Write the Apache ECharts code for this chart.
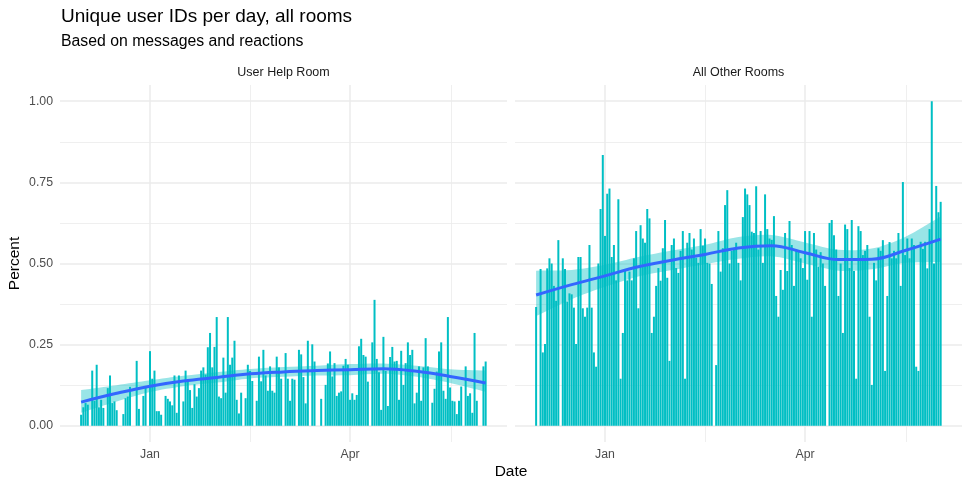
<!DOCTYPE html>
<html>
<head>
<meta charset="utf-8">
<script src="https://cdn.jsdelivr.net/npm/echarts@6/dist/echarts.min.js"></script>
<style>
  html, body { margin: 0; padding: 0; background: #fff; }
  #chart { width: 969px; height: 490px; }
</style>
</head>
<body>
<div id="chart"></div>
<script>
// days are counted from 1 Jan; first bar is 1 Dec
var firstDay = -31

// share of unique user IDs per day, User Help Room
var helpRoom = [
  0.034, 0.057, 0.07, 0.065, 0, 0.17, 0.077, 0.188, 0.057, 0.08,
  0.055, 0, 0.116, 0.155, 0.07, 0.075, 0.048, 0, 0, 0.036,
  0.085, 0.09, 0.12, 0, 0, 0.2, 0.052, 0, 0.092, 0.12, 0,
  0.23, 0.145, 0.17, 0.045, 0.045, 0.034, 0, 0.092, 0.083, 0.075,
  0.063, 0.155, 0.04, 0.155, 0, 0.075, 0.17, 0.138, 0.11, 0.055,
  0.128, 0.09, 0.116, 0.17, 0.18, 0.158, 0.242, 0.286, 0.18, 0.243, 0.335,
  0.09, 0.085, 0.21, 0.102, 0.335, 0.188, 0.21, 0.262, 0.08, 0.038,
  0.102, 0, 0.085, 0.188, 0.169, 0.138, 0, 0.077, 0.213, 0.137,
  0.234, 0.155, 0.108, 0.183, 0.108, 0.102, 0.213, 0.18,
  0.145, 0, 0.224, 0.145, 0.077, 0.145, 0.142, 0, 0.234, 0.22,
  0.15, 0.069, 0.262, 0, 0.251, 0.198, 0, 0, 0.083, 0,
  0.126, 0.192, 0.229, 0.152, 0.193, 0.092, 0.102, 0.106, 0.185, 0.206, 0.188,
  0.08, 0.1, 0.08, 0.095, 0.245, 0.268, 0.218, 0.213, 0.136, 0,
  0.257, 0.388, 0.206, 0.165, 0.049, 0.274, 0.169, 0.061, 0.212, 0.243,
  0.198, 0.2, 0.08, 0.231, 0.126, 0.193, 0.257, 0.218, 0.234, 0.069,
  0.102, 0.183, 0.077, 0.18, 0.27, 0.183, 0, 0.071, 0.114, 0.167,
  0.229, 0.257, 0.108, 0.083, 0.335, 0.118, 0.077, 0.075, 0.036, 0.077,
  0.121, 0, 0.183, 0.092, 0.1, 0.04, 0.286, 0.077, 0, 0, 0.183, 0.198
]

// share of unique user IDs per day, all other rooms
var otherRooms = [
  0.366, 0, 0.483, 0.226, 0.252, 0.485, 0.516, 0.5, 0.431, 0.385,
  0.572, 0, 0.516, 0.483, 0.383, 0.408, 0.405, 0.364, 0.252, 0.52,
  0.52, 0.362, 0.336, 0.364, 0.557, 0.364, 0.226, 0.182, 0.5, 0.668, 0.834,
  0.585, 0.715, 0.731, 0.52, 0.557, 0.448, 0.698, 0.145, 0.286, 0.483,
  0.448, 0.475, 0.448, 0.516, 0.6, 0.362, 0.618, 0.577, 0.564, 0.668,
  0.639, 0.286, 0.336, 0.431, 0.486, 0.447, 0.547, 0.634, 0.456, 0.2, 0.557,
  0.577, 0.486, 0.471, 0.539, 0.6, 0.145, 0.564, 0.594, 0.543, 0.577,
  0.518, 0.502, 0.606, 0.555, 0.577, 0.502, 0.5, 0.437, 0, 0.187,
  0.6, 0.475, 0.547, 0.68, 0.726, 0.5, 0.539, 0.543,
  0.564, 0.502, 0.448, 0.643, 0.731, 0.713, 0.68, 0.598, 0.594, 0.738,
  0.543, 0.6, 0.502, 0.713, 0.606, 0.577, 0.573, 0.646, 0.4, 0.336,
  0.48, 0.419, 0.594, 0.477, 0.631, 0.557, 0.431, 0.543, 0.539, 0.516, 0.486,
  0.6, 0.45, 0.6, 0.336, 0.594, 0.543, 0.49, 0.535, 0.5, 0.431,
  0, 0.625, 0.634, 0.587, 0.543, 0.4, 0.5, 0.286, 0.62, 0.606,
  0.486, 0.634, 0.477, 0.145, 0.615, 0.6, 0.526, 0.539, 0.557, 0.336,
  0.126, 0.502, 0.448, 0.547, 0.539, 0.572, 0.169, 0.4, 0.566, 0.516,
  0.539, 0.516, 0.594, 0.431, 0.751, 0.526, 0.577, 0.516, 0.577, 0.557,
  0.182, 0.169, 0.567, 0.545, 0.567, 0.485, 0.606, 1.0, 0.5, 0.739, 0.658, 0.69
]

// loess fit and its band
var fitDays = [-31, -15, 0, 15, 30, 45, 60, 75, 90, 105, 120, 135, 151]
var helpFit = [0.073, 0.1, 0.122, 0.138, 0.149, 0.16, 0.166, 0.17, 0.173, 0.176, 0.168, 0.152, 0.132]
var helpLow = [0.04, 0.075, 0.104, 0.122, 0.133, 0.146, 0.151, 0.155, 0.156, 0.16, 0.151, 0.132, 0.105]
var helpHigh = [0.11, 0.125, 0.14, 0.154, 0.165, 0.175, 0.181, 0.185, 0.19, 0.192, 0.185, 0.174, 0.17]
var otherFit = [0.403, 0.435, 0.462, 0.49, 0.51, 0.528, 0.548, 0.555, 0.533, 0.512, 0.513, 0.54, 0.575]
var otherLow = [0.338, 0.39, 0.428, 0.46, 0.48, 0.498, 0.515, 0.522, 0.5, 0.478, 0.482, 0.502, 0.505]
var otherHigh = [0.478, 0.48, 0.496, 0.52, 0.54, 0.558, 0.582, 0.588, 0.565, 0.542, 0.546, 0.582, 0.645]

var xLabelDays = [0, 90]
var xLabelText = { 0: 'Jan', 90: 'Apr' }
var xMajor = [0, 90]
var xMinor = [45, 135.5]
var yMajor = [0, 0.25, 0.5, 0.75, 1]
var yMinor = [0.125, 0.375, 0.625, 0.875]
var panelNames = ['User Help Room', 'All Other Rooms']

var FONT = '"Liberation Sans", Arial, Helvetica, sans-serif'
var BAR = '#00BFC4'
var GRIDC = '#ebebeb'

var chart = echarts.init(document.getElementById('chart'), null, { renderer: 'canvas' })

var panelLeft = [60, 515]
var grids = []
var xAxes = []
var yAxes = []
var series = []

var panels = [
  { bars: helpRoom, fit: helpFit, low: helpLow, high: helpHigh },
  { bars: otherRooms, fit: otherFit, low: otherLow, high: otherHigh }
]

// ribbon: upper edge then lower edge back; corner points doubled so the ends stay straight
function bandItem(p) {
  return function(params, api) {
    if (params.dataIndex !== 0) return null
    var n = fitDays.length
    var pts = []
    var k
    pts.push(api.coord([fitDays[0], p.high[0]]))
    for (k = 0; k < n; k++) pts.push(api.coord([fitDays[k], p.high[k]]))
    pts.push(api.coord([fitDays[n - 1], p.high[n - 1]]))
    pts.push(api.coord([fitDays[n - 1], p.low[n - 1]]))
    for (k = n - 1; k >= 0; k--) pts.push(api.coord([fitDays[k], p.low[k]]))
    pts.push(api.coord([fitDays[0], p.low[0]]))
    return {
      type: 'polygon',
      shape: { points: pts, smooth: 0.3 },
      style: { fill: 'rgba(0,191,196,0.4)' },
      silent: true
    }
  }
}

panels.forEach(function(p, i) {
  grids.push({ left: panelLeft[i], top: 85, width: 447, height: 357 })
  // major vertical lines + labels
  xAxes.push({
    type: 'value', gridIndex: i, min: -40.5, max: 160.6, position: 'bottom',
    axisLine: { show: false },
    axisTick: { show: false, customValues: xMajor },
    axisLabel: {
      customValues: xLabelDays, margin: 7, color: '#4d4d4d', fontSize: 12.3, fontFamily: FONT,
      formatter: function(v) { return xLabelText[v] || '' }
    },
    splitLine: { show: true, lineStyle: { color: GRIDC, width: 1.5 } }
  })
  // minor vertical lines
  xAxes.push({
    type: 'value', gridIndex: i, min: -40.5, max: 160.6, position: 'top',
    axisLine: { show: false },
    axisTick: { show: false, customValues: xMinor },
    axisLabel: { show: false },
    splitLine: { show: true, lineStyle: { color: GRIDC, width: 0.8 } }
  })
  yAxes.push({
    type: 'value', gridIndex: i, min: -0.05, max: 1.05, position: 'left',
    axisLine: { show: false },
    axisTick: { show: false, customValues: yMajor },
    axisLabel: {
      show: i === 0, customValues: yMajor, margin: 7, color: '#4d4d4d', fontSize: 12.3, fontFamily: FONT,
      formatter: function(v) { return v.toFixed(2) }
    },
    splitLine: { show: true, lineStyle: { color: GRIDC, width: 1.5 } }
  })
  yAxes.push({
    type: 'value', gridIndex: i, min: -0.05, max: 1.05, position: 'right',
    axisLine: { show: false },
    axisTick: { show: false, customValues: yMinor },
    axisLabel: { show: false },
    splitLine: { show: true, lineStyle: { color: GRIDC, width: 0.8 } }
  })

  var xi = i * 2
  var yi = i * 2
  series.push({
    type: 'bar', xAxisIndex: xi, yAxisIndex: yi, z: 2,
    barWidth: 2,
    itemStyle: { color: BAR },
    data: p.bars.map(function(v, k) { return [firstDay + k, v] })
  })
  series.push({
    type: 'custom', xAxisIndex: xi, yAxisIndex: yi, z: 3,
    renderItem: bandItem(p),
    data: fitDays.map(function(d, k) { return [d, p.low[k], p.high[k]] }),
    encode: { x: 0, y: [1, 2] },
    silent: true
  })
  series.push({
    type: 'line', xAxisIndex: xi, yAxisIndex: yi, z: 4,
    smooth: 0.4, symbol: 'none',
    lineStyle: { color: '#3366FF', width: 3 },
    data: fitDays.map(function(d, k) { return [d, p.fit[k]] }),
    silent: true
  })
})

var texts = [
  { x: 61, y: 16.5, text: 'Unique user IDs per day, all rooms', size: 19, align: 'left', color: '#000' },
  { x: 61, y: 42, text: 'Based on messages and reactions', size: 15.8, align: 'left', color: '#000' },
  { x: 283.5, y: 73, text: panelNames[0], size: 12.5, align: 'center', color: '#1a1a1a' },
  { x: 738.5, y: 73, text: panelNames[1], size: 12.5, align: 'center', color: '#1a1a1a' },
  { x: 511, y: 472, text: 'Date', size: 15.5, align: 'center', color: '#000' }
]

var graphic = texts.map(function(t) {
  return {
    type: 'text', x: t.x, y: t.y, silent: true,
    style: {
      text: t.text, fill: t.color, font: t.size + 'px ' + FONT,
      textAlign: t.align, textVerticalAlign: 'middle'
    }
  }
})
graphic.push({
  type: 'text', x: 15, y: 263.5, rotation: Math.PI / 2, silent: true,
  style: {
    text: 'Percent', fill: '#000', font: '15.5px ' + FONT,
    textAlign: 'center', textVerticalAlign: 'middle'
  }
})

chart.setOption({
  backgroundColor: '#fff',
  animation: false,
  grid: grids,
  xAxis: xAxes,
  yAxis: yAxes,
  series: series,
  graphic: graphic
})
</script>
</body>
</html>
